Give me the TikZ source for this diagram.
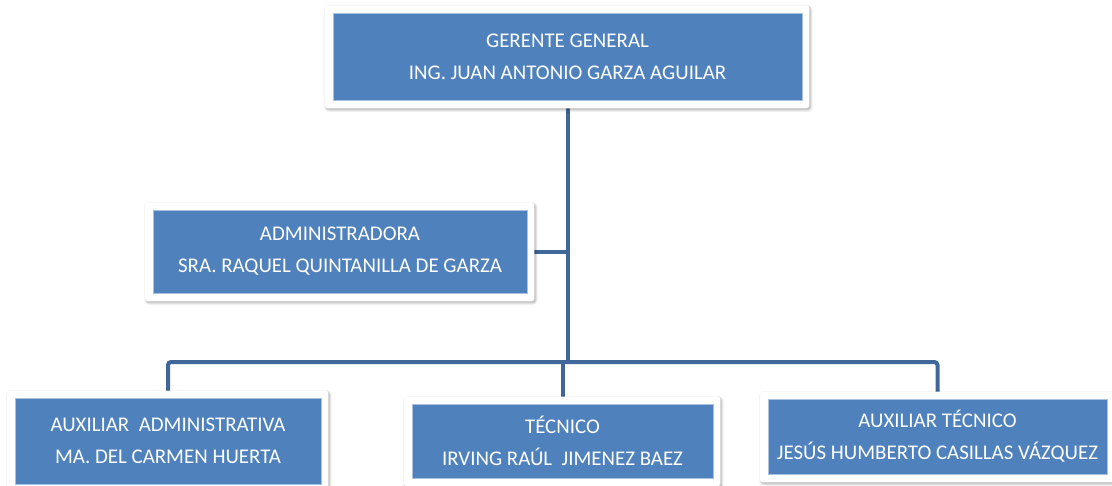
\documentclass[tikz,border=0pt]{standalone}
\usepackage{fontspec}
\setmainfont{Carlito}
\usetikzlibrary{shadows.blur}
\definecolor{boxblue}{HTML}{4F81BD}
\definecolor{boxedge}{HTML}{A9C0DF}
\definecolor{linecol}{HTML}{3F6799}
\pgfdeclarelayer{lines}
\pgfdeclarelayer{frames}
\pgfsetlayers{lines,frames,main}
\tikzset{
  bluebox/.style={fill=boxblue, draw=boxedge, line width=0.8pt, text=white,
    align=center, inner sep=0pt, font=\fontsize{20.9}{32}\selectfont},
  framebox/.style={fill=white, rounded corners=3pt,
    blur shadow={shadow xshift=1.2pt, shadow yshift=-1.5pt, shadow blur steps=6, shadow blur radius=2.5pt, shadow opacity=35}},
  conn/.style={draw=linecol, line width=4pt, rounded corners=3pt}
}
\newcommand{\framearound}[1]{%
  \begin{pgfonlayer}{frames}
    \path[framebox] ([shift={(-7.5pt,7pt)}]#1.north west) rectangle ([shift={(7pt,-8pt)}]#1.south east);
  \end{pgfonlayer}}
\begin{document}
\begin{tikzpicture}[x=1pt,y=1pt]
\useasboundingbox (0,0) rectangle (1112,-485);
\node[bluebox, minimum width=469pt, minimum height=87pt] (gg) at (567.5,-56.5)
  {GERENTE GENERAL\\ING. JUAN ANTONIO GARZA AGUILAR};
\node[bluebox, minimum width=374pt, minimum height=83pt] (adm) at (340,-251.5)
  {ADMINISTRADORA\\SRA. RAQUEL QUINTANILLA DE GARZA};
\node[bluebox, minimum width=306pt, minimum height=86pt] (aux1) at (168,-441)
  {AUXILIAR\ \ ADMINISTRATIVA\\MA. DEL CARMEN HUERTA};
\node[bluebox, minimum width=301pt, minimum height=74pt] (tec) at (562.5,-441)
  {TÉCNICO\\IRVING RAÚL\ \ JIMENEZ BAEZ};
\node[bluebox, minimum width=339pt, minimum height=75pt] (auxt) at (937.5,-436.5)
  {AUXILIAR TÉCNICO\\JESÚS HUMBERTO CASILLAS VÁZQUEZ};
\framearound{gg}
\framearound{adm}
\framearound{aux1}
\framearound{tec}
\framearound{auxt}
\coordinate (bar) at (567.5,-362);
\begin{pgfonlayer}{lines}
  \draw[conn] (gg.south) -- (gg.south |- bar);
  \draw[conn] (aux1.north) |- (bar) -| (auxt.north);
  \draw[conn] (tec.north |- bar) -- (tec.north);
  \draw[conn] (adm.east) -- (adm.east -| gg.south);
\end{pgfonlayer}
\end{tikzpicture}
\end{document}
